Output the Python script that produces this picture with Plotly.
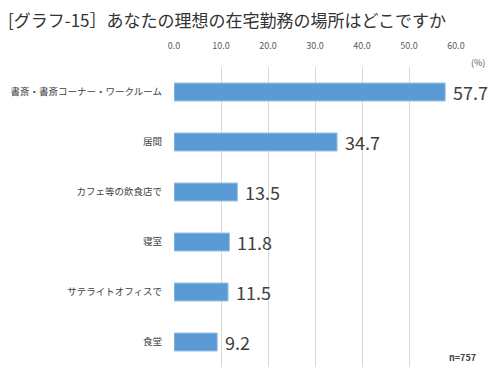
import plotly.graph_objects as go

categories = ["書斎・書斎コーナー・ワークルーム", "居間", "カフェ等の飲食店で", "寝室", "サテライトオフィスで", "食堂"]
values = [57.7, 34.7, 13.5, 11.8, 11.5, 9.2]
tick_vals = [0, 10, 20, 30, 40, 50, 60]
tick_text = ["0.0", "10.0", "20.0", "30.0", "40.0", "50.0", "60.0"]

FONT = "Noto Sans CJK JP, Meiryo, sans-serif"

# page body has an 8px margin; figure is sized so the plot lands where the reference has it
W, H = 492, 366
L, R, T, B = 166, 44, 59, 7
PW, PH = W - L - R, H - T - B

fig = go.Figure()
fig.add_trace(go.Bar(
    x=values, y=categories, orientation="h",
    marker=dict(color="#5B9BD5", line=dict(color="#9DC3E6", width=1)),
    width=0.36, hoverinfo="x+y",
))

annotations = [
    dict(x=v, y=c, xref="x", yref="y", text=f"{v:.1f}", showarrow=False,
         xanchor="left", yanchor="middle", xshift=6,
         font=dict(size=18, color="#404040", family=FONT))
    for c, v in zip(categories, values)
]
annotations += [
    dict(text="(%)", x=(470 - L) / PW, y=(H - B - 54) / PH, xref="paper", yref="paper",
         showarrow=False, xanchor="center", yanchor="middle",
         font=dict(size=9, color="#595959")),
    dict(text="<b>n=757</b>", x=(454 - L) / PW, y=(H - B - 349) / PH, xref="paper", yref="paper",
         showarrow=False, xanchor="center", yanchor="middle",
         font=dict(size=9, color="#404040")),
]

fig.update_layout(
    width=W, height=H,
    margin=dict(l=L, r=R, t=T, b=B, autoexpand=False),
    paper_bgcolor="white", plot_bgcolor="white",
    showlegend=False,
    font=dict(family=FONT),
    title=dict(text="[グラフ-15］あなたの理想の在宅勤務の場所はどこですか",
               x=0, xref="container", xanchor="left", y=(H - 13) / H, yref="container",
               yanchor="middle",
               font=dict(size=17, color="#333333", family=FONT)),
    xaxis=dict(range=[0, 60], side="top", tickvals=tick_vals, ticktext=tick_text,
               showgrid=True, gridcolor="#D9D9D9", gridwidth=1, zeroline=False,
               showline=False, ticks="", tickfont=dict(size=9, color="#595959"),
               ticklabelstandoff=15, automargin=False),
    yaxis=dict(autorange="reversed", showgrid=False, showline=False, ticks="",
               tickfont=dict(size=9.5, color="#404040"), ticklabelstandoff=11,
               automargin=False),
    bargap=0.64,
    annotations=annotations,
)

fig.write_html("out.html")
